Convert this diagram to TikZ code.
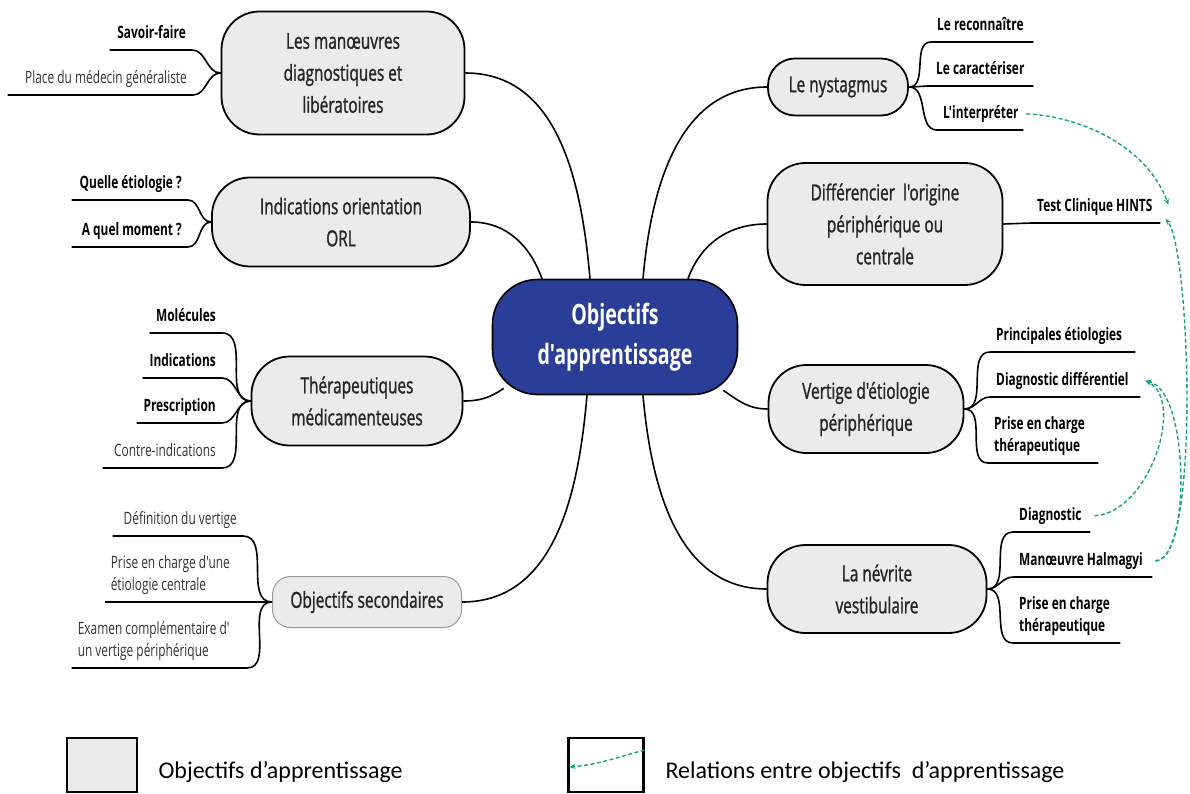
\documentclass[tikz,border=0pt]{standalone}
\usepackage{fontspec}
\setmainfont{Open Sans}[FakeStretch=0.7,Ligatures=TeXOff]
\newfontfamily\topicfont{Open Sans}[FakeStretch=0.7,FakeBold=1.2,Ligatures=TeXOff]
\newfontfamily\legendfont{Carlito}
\usetikzlibrary{arrows.meta}
\definecolor{topicfill}{HTML}{EBEBEB}
\definecolor{hubfill}{HTML}{2B3E97}
\definecolor{linkgreen}{HTML}{17A085}
\definecolor{softborder}{HTML}{9A9A9A}
\definecolor{leafgray}{HTML}{333333}
\newcommand{\hubtext}{\fontsize{28}{40}\selectfont\bfseries\color{white}}
\newcommand{\topictext}{\topicfont\fontsize{22}{32}\selectfont\color{black!85}}
\newcommand{\leafbold}{\fontsize{17}{22}\selectfont\bfseries}
\newcommand{\leafplain}{\fontsize{17}{22}\selectfont\color{leafgray}}
\newcommand{\legendtext}{\legendfont\fontsize{24}{28}\selectfont}
\tikzset{
  >={Stealth[length=6pt,width=5pt]},
  branch/.style={draw=black,line width=1.6pt},
  relation/.style={->,draw=linkgreen,line width=1.4pt,dash pattern=on 4pt off 2.5pt},
  hubnode/.style={draw=black,line width=1.6pt,fill=hubfill,rounded corners=45pt,align=flush center,font=\hubtext,inner sep=0pt},
  topic/.style={draw=black,line width=1.8pt,fill=topicfill,rounded corners=38pt,align=flush center,font=\topictext,inner sep=0pt},
  leafL/.style={anchor=south east,align=flush right,inner xsep=6pt,inner ysep=5pt,execute at end node=\strut},
  leafR/.style={anchor=south west,align=flush left,inner xsep=6pt,inner ysep=5pt,execute at end node=\strut},
  legendbox/.style={draw=black,line width=2.2pt,minimum width=70pt,minimum height=54pt}
}

\begin{document}
\begin{tikzpicture}[x=1pt,y=-1pt]
  \useasboundingbox (0,0) rectangle (1190,794);

  % Central objective and the eight topics around it.
  \node[hubnode,minimum width=245pt,minimum height=115pt] (hub) at (615,337) {Objectifs\\d'apprentissage};
  \node[topic,minimum width=243pt,minimum height=123pt] (manoeuvres) at (343,73) {Les manœuvres\\diagnostiques et\\libératoires};
  \node[topic,minimum width=258pt,minimum height=89pt] (orl) at (341,222) {Indications orientation\\ORL};
  \node[topic,minimum width=211pt,minimum height=89pt] (therapeutiques) at (357,401) {Thérapeutiques\\médicamenteuses};
  \node[topic,draw=softborder,line width=1pt,rounded corners=18pt,minimum width=189pt,minimum height=51pt] (secondaires) at (367,602) {Objectifs secondaires};
  \node[topic,rounded corners=27pt,minimum width=140pt,minimum height=57pt] (nystagmus) at (838,87) {Le nystagmus};
  \node[topic,minimum width=235pt,minimum height=122pt] (origine) at (885,224) {Différencier\ \ l'origine\\périphérique ou\\centrale};
  \node[topic,minimum width=195pt,minimum height=88pt] (vertige) at (866,409) {Vertige d'étiologie\\périphérique};
  \node[topic,minimum width=219pt,minimum height=88pt] (nevrite) at (877,589) {La névrite\\vestibulaire};

  % Topics hang from the central node.
  \draw[branch] (manoeuvres.east) to[out=0,in=95] ([xshift=-25pt]hub.north);
  \draw[branch] (orl.east) to[out=0,in=110] ([xshift=-73pt]hub.north);
  \draw[branch] (nystagmus.west) to[out=180,in=85] ([xshift=28pt]hub.north);
  \draw[branch] (origine.west) to[out=180,in=70] ([xshift=73pt]hub.north);
  \draw[branch] (therapeutiques.east) to[out=0,in=215] ([xshift=12pt,yshift=7pt]hub.south west);
  \draw[branch] (vertige.west) to[out=180,in=-35] ([xshift=-15pt,yshift=5pt]hub.south east);
  \draw[branch] (secondaires.east) to[out=0,in=-95] ([xshift=-28pt]hub.south);
  \draw[branch] (nevrite.west) to[out=180,in=-85] ([xshift=28pt]hub.south);

  % Left-hand leaves, underlined and tied to their topic.
  \node[leafL,text width=70pt,font=\leafbold] (savoir) at (192,50) {Savoir-faire};
  \node[leafL,text width=173pt,font=\leafplain] (place) at (193,95) {Place du médecin généraliste};
  \node[leafL,text width=104pt,font=\leafbold] (quelle) at (188,200) {Quelle étiologie ?};
  \node[leafL,text width=104pt,font=\leafbold] (moment) at (188,247) {A quel moment ?};
  \node[leafL,text width=60pt,font=\leafbold] (molecules) at (222,333) {Molécules};
  \node[leafL,text width=67pt,font=\leafbold] (indications) at (222,378) {Indications};
  \node[leafL,text width=73pt,font=\leafbold] (prescription) at (222,423) {Prescription};
  \node[leafL,text width=107pt,font=\leafplain] (contre) at (222,468) {Contre-indications};
  \node[leafL,text width=118pt,font=\leafplain] (definition) at (243,536) {Définition du vertige};
  \node[leafL,align=flush left,text width=138pt,font=\leafplain] (centrale) at (255,602) {Prise en charge d'une\\étiologie centrale};
  \node[leafL,align=flush left,text width=163pt,font=\leafplain] (examen) at (247,668) {Examen complémentaire d'\\un vertige périphérique};

  \draw[branch] (savoir.south west) -- (savoir.south east) to[out=0,in=180] (manoeuvres.west);
  \draw[branch] (place.south west) -- (place.south east) to[out=0,in=180] (manoeuvres.west);
  \draw[branch] (quelle.south west) -- (quelle.south east) to[out=0,in=180] (orl.west);
  \draw[branch] (moment.south west) -- (moment.south east) to[out=0,in=180] (orl.west);
  \draw[branch] (molecules.south west) -- (molecules.south east) to[out=0,in=180] (therapeutiques.west);
  \draw[branch] (indications.south west) -- (indications.south east) to[out=0,in=180] (therapeutiques.west);
  \draw[branch] (prescription.south west) -- (prescription.south east) to[out=0,in=180] (therapeutiques.west);
  \draw[branch] (contre.south west) -- (contre.south east) to[out=0,in=180] (therapeutiques.west);
  \draw[branch] (definition.south west) -- (definition.south east) to[out=0,in=180] (secondaires.west);
  \draw[branch] (centrale.south west) -- (centrale.south east) -- (secondaires.west);
  \draw[branch] (examen.south west) -- (examen.south east) to[out=0,in=180] (secondaires.west);

  % Right-hand leaves.
  \node[leafR,text width=90pt,font=\leafbold] (reconnaitre) at (931,42) {Le reconnaître};
  \node[leafR,text width=91pt,font=\leafbold] (caracteriser) at (930,86) {Le caractériser};
  \node[leafR,text width=74pt,font=\leafbold] (interpreter) at (937,130) {L'interpréter};
  \node[leafR,text width=117pt,font=\leafbold] (hints) at (1031,223) {Test Clinique HINTS};
  \node[leafR,text width=133pt,font=\leafbold] (principales) at (990,352) {Principales étiologies};
  \node[leafR,text width=138pt,font=\leafbold] (differentiel) at (990,397) {Diagnostic différentiel};
  \node[leafR,text width=98pt,font=\leafbold] (priseperiph) at (988,463) {Prise en charge\\thérapeutique};
  \node[leafR,text width=65pt,font=\leafbold] (diagnostic) at (1013,532) {Diagnostic};
  \node[leafR,text width=127pt,font=\leafbold] (halmagyi) at (1013,577) {Manœuvre Halmagyi};
  \node[leafR,text width=95pt,font=\leafbold] (prisenevrite) at (1013,643) {Prise en charge\\thérapeutique};

  \draw[branch] (nystagmus.east) to[out=0,in=180] (reconnaitre.south west) -- (reconnaitre.south east);
  \draw[branch] (nystagmus.east) to[out=0,in=180] (caracteriser.south west) -- (caracteriser.south east);
  \draw[branch] (nystagmus.east) to[out=0,in=180] (interpreter.south west) -- (interpreter.south east);
  \draw[branch] (origine.east) -- (hints.south west) -- (hints.south east);
  \draw[branch] (vertige.east) to[out=0,in=180] (principales.south west) -- (principales.south east);
  \draw[branch] (vertige.east) to[out=0,in=180] (differentiel.south west) -- (differentiel.south east);
  \draw[branch] (vertige.east) to[out=0,in=180] (priseperiph.south west) -- (priseperiph.south east);
  \draw[branch] (nevrite.east) to[out=0,in=180] (diagnostic.south west) -- (diagnostic.south east);
  \draw[branch] (nevrite.east) to[out=0,in=180] (halmagyi.south west) -- (halmagyi.south east);
  \draw[branch] (nevrite.east) to[out=0,in=180] (prisenevrite.south west) -- (prisenevrite.south east);

  % Dashed relations between objectives.
  \draw[relation] ([xshift=3pt]interpreter.east) to[out=-3,in=110,looseness=.9] ([xshift=8pt,yshift=2pt]hints.east);
  \draw[relation] ([xshift=3pt]halmagyi.east) .. controls +(45,3) and +(25,30) .. ([xshift=5pt,yshift=-12pt]hints.east);
  \draw[relation] ([xshift=4pt]diagnostic.east) .. controls +(55,-3) and +(40,20) .. ([xshift=5pt]differentiel.east);
  \draw[relation] ([xshift=3pt]halmagyi.east) .. controls +(35,0) and +(45,10) .. ([xshift=5pt]differentiel.east);

  % Legend.
  \node[legendbox,fill=topicfill] (legtopic) at (102,765) {};
  \node[anchor=base west,font=\legendtext] (legtopictext) at (155,778) {Objectifs d’apprentissage};
  \node[legendbox,fill=white,minimum width=75pt] (legrelation) at (606,765) {};
  \node[anchor=base west,font=\legendtext] (legrelationtext) at (662,778) {Relations entre objectifs\ \ d’apprentissage};
  \draw[relation] ([yshift=15pt]legrelation.east) to[out=195,in=5] ([xshift=2pt,yshift=-2pt]legrelation.west);
\end{tikzpicture}
\end{document}
